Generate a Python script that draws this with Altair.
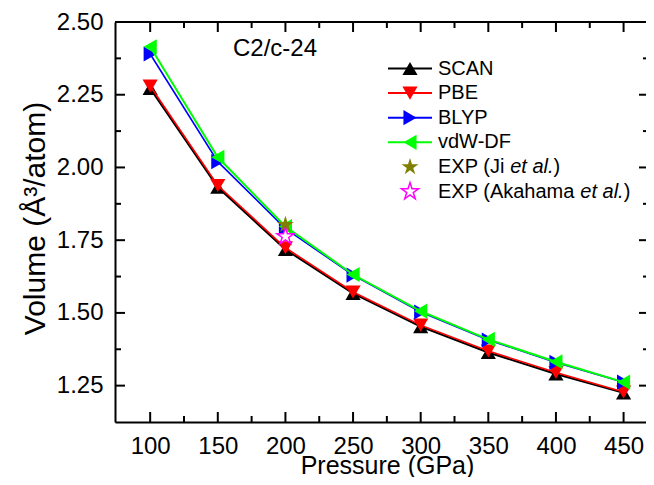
import altair as alt
import pandas as pd

# ---- data ----
pressure = [100, 150, 200, 250, 300, 350, 400, 450]
scan = [2.272, 1.932, 1.718, 1.567, 1.453, 1.364, 1.290, 1.225]
pbe = [2.280, 1.938, 1.724, 1.572, 1.458, 1.369, 1.295, 1.228]
blyp = [2.390, 2.020, 1.790, 1.630, 1.503, 1.407, 1.330, 1.262]
vdw = [2.415, 2.035, 1.797, 1.632, 1.506, 1.409, 1.332, 1.262]
exp_ji_p = [200]
exp_ji_v = [1.803]
exp_ak_p = [200]
exp_ak_v = [1.763]

x_major = [100, 150, 200, 250, 300, 350, 400, 450]
x_minor = [125, 175, 225, 275, 325, 375, 425]
y_major = [1.25, 1.50, 1.75, 2.00, 2.25, 2.50]
y_minor = [1.375, 1.625, 1.875, 2.125, 2.375]

FONT = "Liberation Sans"
W, H = 531, 400
PX_PER_GPA = 1.3526
STAR = ("M0,-1L0.2245,-0.309L0.9511,-0.309L0.3633,0.118L0.5878,0.809L0,0.382"
        "L-0.5878,0.809L-0.3633,0.118L-0.9511,-0.309L-0.2245,-0.309Z")
TRI = 230
STAR_SIZE = 320

xscale = alt.Scale(domain=[74, 74 + W / PX_PER_GPA], nice=False, zero=False)
yscale = alt.Scale(domain=[1.125, 2.5], nice=False, zero=False)
xaxis = alt.Axis(values=x_major, title="Pressure (GPa)", format="d",
                 titleFontSize=25, titleX=272, titleY=51, titleAlign="center",
                 titleBaseline="alphabetic")
yaxis = alt.Axis(values=y_major, title="Volume (Å³/atom)", format=".2f",
                 titleFontSize=30, titlePadding=6, titleY=196, titleAlign="center")


def X():
    return alt.X("P:Q", scale=xscale, axis=xaxis)


def Y():
    return alt.Y("V:Q", scale=yscale, axis=yaxis)


series = [
    ("SCAN", scan, "#000000", "triangle-up", 2.0),
    ("PBE", pbe, "#FF0000", "triangle-down", 1.6),
    ("BLYP", blyp, "#0000FF", "triangle-right", 1.6),
    ("vdW-DF", vdw, "#00FF00", "triangle-left", 2.0),
]

layers = []
for name, vals, color, shape, sw in series:
    df = pd.DataFrame({"P": pressure, "V": vals, "series": name})
    base = alt.Chart(df).encode(x=X(), y=Y())
    layers.append(base.mark_line(color=color, strokeWidth=sw))
    layers.append(base.mark_point(shape=shape, filled=True, color=color,
                                  size=TRI, opacity=1))

df_ji = pd.DataFrame({"P": exp_ji_p, "V": exp_ji_v})
df_ak = pd.DataFrame({"P": exp_ak_p, "V": exp_ak_v})
layers.append(alt.Chart(df_ji).mark_point(shape=STAR, filled=True, color="#808000",
                                          size=STAR_SIZE, opacity=1).encode(x=X(), y=Y()))
layers.append(alt.Chart(df_ak).mark_point(shape=STAR, fill="white", stroke="#FF00FF",
                                          strokeWidth=1.5, size=STAR_SIZE, opacity=1,
                                          fillOpacity=1).encode(x=X(), y=Y()))

# ---- inward ticks on all four sides ----
dfx_major = pd.DataFrame({"P": x_major})
dfx_minor = pd.DataFrame({"P": x_minor})
dfy_major = pd.DataFrame({"V": y_major})
dfy_minor = pd.DataFrame({"V": y_minor})
tick_style = dict(color="black", strokeWidth=2)
layers += [
    alt.Chart(dfx_major).mark_rule(**tick_style).encode(x=X(), y=alt.value(H), y2=alt.value(H - 10)),
    alt.Chart(dfx_minor).mark_rule(**tick_style).encode(x=X(), y=alt.value(H), y2=alt.value(H - 6)),
    alt.Chart(dfx_major).mark_rule(**tick_style).encode(x=X(), y=alt.value(0), y2=alt.value(10)),
    alt.Chart(dfx_minor).mark_rule(**tick_style).encode(x=X(), y=alt.value(0), y2=alt.value(6)),
    alt.Chart(dfy_major).mark_rule(**tick_style).encode(y=Y(), x=alt.value(0), x2=alt.value(10)),
    alt.Chart(dfy_minor).mark_rule(**tick_style).encode(y=Y(), x=alt.value(0), x2=alt.value(6)),
    alt.Chart(dfy_major).mark_rule(**tick_style).encode(y=Y(), x=alt.value(W), x2=alt.value(W - 7)),
    alt.Chart(dfy_minor).mark_rule(**tick_style).encode(y=Y(), x=alt.value(W), x2=alt.value(W - 3)),
]

one = pd.DataFrame({"a": [0]})
# top frame line
layers.append(alt.Chart(one).mark_rule(color="black", strokeWidth=2).encode(
    x=alt.value(0), x2=alt.value(W), y=alt.value(0)))

# phase label
layers.append(alt.Chart(one).mark_text(text="C2/c-24", font=FONT, fontSize=24,
                                        align="left", baseline="middle", color="black").encode(
    x=alt.value(118), y=alt.value(26.5)))

# ---- manual legend ----
LX0, LX1, LM, LT = 273, 317, 295, 323
ROW0, STEP = 46.5, 24.6
FS = 20
legend_items = [
    ("SCAN", "#000000", "triangle-up"),
    ("PBE", "#FF0000", "triangle-down"),
    ("BLYP", "#0000FF", "triangle-right"),
    ("vdW-DF", "#00FF00", "triangle-left"),
]
for i, (lab, col, shp) in enumerate(legend_items):
    yy = ROW0 + i * STEP
    layers.append(alt.Chart(one).mark_rule(color=col, strokeWidth=2).encode(
        x=alt.value(LX0), x2=alt.value(LX1), y=alt.value(yy)))
    layers.append(alt.Chart(one).mark_point(shape=shp, filled=True, color=col, size=TRI,
                                            opacity=1).encode(x=alt.value(LM), y=alt.value(yy)))
    layers.append(alt.Chart(one).mark_text(text=lab, font=FONT, fontSize=FS, align="left",
                                           baseline="middle", color="black").encode(
        x=alt.value(LT), y=alt.value(yy)))

# Arial advance widths (per 1000 em) for the mixed-style labels
AW = {"E": 667, "X": 667, "P": 667, " ": 278, "(": 333, "J": 500, "i": 222, "A": 667,
      "k": 500, "a": 556, "h": 556, "m": 833, "e": 556, "t": 278, "l": 222, ".": 278, ")": 333}


def tw(s):
    return sum(AW[c] for c in s) * FS / 1000.0


exp_items = [
    ("EXP (Ji ", dict(filled=True, color="#808000")),
    ("EXP (Akahama ", dict(fill="white", stroke="#FF00FF", strokeWidth=1.5, fillOpacity=1)),
]
for j, (prefix, style) in enumerate(exp_items):
    yy = ROW0 + (4 + j) * STEP
    layers.append(alt.Chart(one).mark_point(shape=STAR, size=STAR_SIZE, opacity=1, **style).encode(
        x=alt.value(LM), y=alt.value(yy)))
    x0 = LT
    for part, italic in [(prefix, False), ("et al.", True), (")", False)]:
        kw = dict(fontStyle="italic") if italic else {}
        layers.append(alt.Chart(one).mark_text(text=part, font=FONT, fontSize=FS, align="left",
                                               baseline="middle", color="black", **kw).encode(
            x=alt.value(x0), y=alt.value(yy)))
        x0 += tw(part)

chart = alt.layer(*layers).properties(
    width=W, height=H,
    autosize=alt.AutoSizeParams(type="none"),
    padding={"left": 107, "top": 14, "right": 0, "bottom": 55},
).configure_view(stroke=None).configure_axis(
    labelFont=FONT, titleFont=FONT, labelFontSize=24, labelColor="black",
    titleColor="black", titleFontWeight="normal", labelFlush=False, labelOverlap=False,
    ticks=False, tickSize=0, labelPadding=12, domainColor="black", domainWidth=2,
    grid=False,
)

chart.save("out.html", embed_options={"renderer": "svg", "actions": False})
